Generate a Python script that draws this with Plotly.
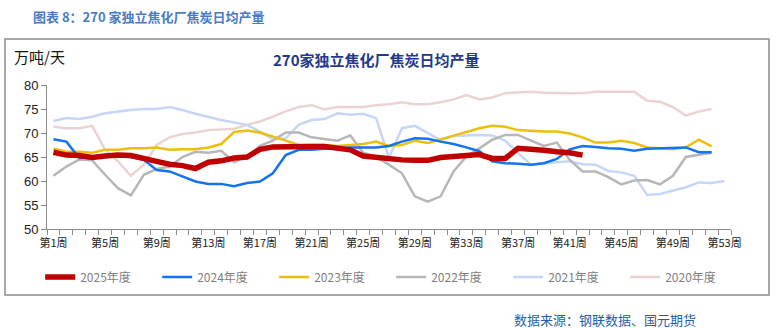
import plotly.graph_objects as go

weeks = [f"第{i}周" for i in range(1, 54)]

y2025 = [66.0, 65.4, 65.3, 64.9, 65.2, 65.4, 65.3, 64.6, 64.1, 63.5,
         63.2, 62.6, 63.9, 64.2, 64.8, 65.0, 66.6, 67.1, 67.2, 67.2,
         67.2, 67.2, 66.8, 66.5, 65.2, 64.9, 64.8, 64.4, 64.3, 64.3,
         64.9, 65.1, 65.3, 65.5, 64.7, 64.7, 66.8, 66.7, 66.4, 66.1,
         65.9, 65.4]
y2024 = [68.7, 68.2, 64.8, 65.0, 65.1, 65.1, 65.0, 64.4, 62.3, 62.0,
         61.0, 59.9, 59.4, 59.4, 58.9, 59.6, 59.9, 61.6, 65.4, 66.5,
         66.5, 66.7, 66.7, 67.0, 67.0, 67.0, 67.3, 68.2, 68.9, 68.8,
         68.2, 67.7, 67.0, 66.2, 64.1, 63.7, 63.6, 63.4, 63.7, 64.6,
         66.6, 67.3, 67.1, 66.8, 66.7, 66.3, 66.7, 66.8, 66.8, 67.0,
         66.0, 66.0]
y2023 = [66.7, 66.1, 66.1, 65.9, 66.5, 66.5, 66.8, 66.8, 67.0, 66.5,
         66.6, 66.6, 67.0, 67.7, 70.2, 70.5, 70.1, 69.3, 68.4, 67.5,
         67.5, 67.5, 67.3, 67.5, 67.7, 68.2, 67.3, 67.5, 68.4, 67.9,
         68.7, 69.4, 70.2, 71.0, 71.5, 71.3, 70.6, 70.4, 70.3, 70.3,
         69.9, 69.1, 68.0, 68.0, 68.4, 67.9, 67.0, 66.8, 66.6, 67.0,
         68.6, 67.2]
y2022 = [61.1, 63.0, 64.5, 64.3, 61.3, 58.5, 57.0, 61.3, 62.5, 63.0,
         65.0, 66.1, 65.9, 66.3, 63.9, 65.2, 67.3, 68.4, 70.1, 70.1,
         69.1, 68.7, 68.4, 69.5, 65.9, 65.0, 63.4, 61.6, 56.8, 55.7,
         56.8, 62.0, 65.1, 66.8, 68.6, 69.6, 69.6, 68.4, 67.3, 68.0,
         64.4, 62.0, 62.0, 60.8, 59.3, 60.1, 60.2, 59.3, 61.1, 65.0,
         65.4, 65.9]
y2021 = [72.5, 73.1, 72.9, 73.4, 74.1, 74.5, 74.8, 75.0, 75.0, 75.4,
         74.8, 74.0, 73.3, 72.7, 72.2, 71.7, 70.3, 68.7, 68.9, 71.7,
         72.7, 72.9, 74.1, 73.8, 74.0, 73.1, 64.8, 71.0, 71.5, 70.0,
         68.5, 69.4, 69.5, 69.6, 69.5, 68.4, 65.8, 63.4, 63.7, 63.9,
         64.1, 63.5, 63.4, 62.1, 61.8, 61.1, 57.1, 57.3, 58.0, 58.7,
         59.7, 59.6, 60.0]
y2020 = [71.3, 71.0, 71.0, 71.5, 66.5, 64.1, 61.1, 63.4, 67.5, 69.1,
         69.8, 70.1, 70.6, 70.8, 70.9, 71.7, 72.4, 73.4, 74.5, 75.4,
         75.8, 74.9, 75.4, 75.4, 75.4, 75.8, 76.0, 76.4, 76.0, 76.0,
         76.4, 77.0, 77.9, 77.0, 77.4, 78.3, 78.4, 78.6, 78.4, 78.3,
         78.3, 78.3, 78.6, 78.6, 78.6, 78.6, 76.7, 76.5, 75.4, 73.6,
         74.5, 75.0]

series = [
    ("2020年度", y2020, "#EBD3D3", 2.5),
    ("2021年度", y2021, "#C6D6F7", 2.5),
    ("2022年度", y2022, "#B7B7B7", 2.5),
    ("2023年度", y2023, "#EEBE0C", 2.5),
    ("2024年度", y2024, "#1473F0", 2.5),
    ("2025年度", y2025, "#C00000", 5.5),
]

fig = go.Figure()
for name, ys, color, w in series:
    fig.add_trace(go.Scatter(
        x=weeks[:len(ys)], y=ys, name=name, mode="lines",
        line=dict(color=color, width=w),
    ))

ticktext = [w if i % 4 == 0 else "" for i, w in enumerate(weeks)]

fig.update_layout(
    width=778, height=328,
    margin=dict(l=47, r=47, t=85, b=99),
    paper_bgcolor="white", plot_bgcolor="white",
    showlegend=True,
    legend=dict(
        orientation="h", traceorder="reversed",
        x=-0.01, xanchor="left", y=-0.333, yanchor="middle",
        entrywidth=72, entrywidthmode="pixels",
        font=dict(family="Noto Sans CJK SC", size=12, color="#7F7F7F"),
        itemwidth=30, bgcolor="rgba(0,0,0,0)",
    ),
    xaxis=dict(
        type="category", categoryorder="array", categoryarray=weeks,
        range=[-0.5, 52.5],
        tickvals=weeks, ticktext=ticktext, tickson="boundaries",
        ticks="outside", ticklen=5, tickcolor="#8C8C8C",
        ticklabelstandoff=4,
        showline=True, linecolor="#8C8C8C", linewidth=1,
        showgrid=False, zeroline=False, tickangle=0,
        tickfont=dict(family="Noto Sans CJK SC", size=11, color="#222222"),
    ),
    yaxis=dict(
        range=[50, 80], dtick=5, tick0=50,
        ticks="outside", ticklen=5, tickcolor="#8C8C8C",
        showline=True, linecolor="#8C8C8C", linewidth=1,
        showgrid=False, zeroline=False,
        tickfont=dict(family="Liberation Sans", size=13, color="#222222"),
    ),
    font=dict(family="Noto Sans CJK SC"),
)

# outer frame
fig.add_shape(type="rect", xref="paper", yref="paper",
              x0=(5 - 47) / 684, x1=(769 - 47) / 684,
              y0=(229 - 295) / 144, y1=(229 - 39) / 144,
              line=dict(color="#8C8C8C", width=1.5), layer="below")

fig.add_annotation(text="<b>图表 8：270 家独立焦化厂焦炭日均产量</b>",
                   xref="paper", yref="paper",
                   x=(31 - 47) / 684, y=(229 - 17) / 144,
                   xanchor="left", yanchor="middle", showarrow=False,
                   font=dict(family="Noto Sans CJK SC", size=13, color="#4A7CC4"))
fig.add_annotation(text="万吨/天", xref="paper", yref="paper",
                   x=(12 - 47) / 684, y=(229 - 56) / 144,
                   xanchor="left", yanchor="middle", showarrow=False,
                   font=dict(family="Noto Sans CJK SC", size=15, color="#111111"))
fig.add_annotation(text="<b>270家独立焦化厂焦炭日均产量</b>", xref="paper", yref="paper",
                   x=(376 - 47) / 684, y=(229 - 59) / 144,
                   xanchor="center", yanchor="middle", showarrow=False,
                   font=dict(family="Noto Sans CJK SC", size=15, color="#1F3A8A"))
fig.add_annotation(text="数据来源：钢联数据、国元期货", xref="paper", yref="paper",
                   x=(512 - 47) / 684, y=(229 - 319) / 144,
                   xanchor="left", yanchor="middle", showarrow=False,
                   font=dict(family="Noto Sans CJK SC", size=13, color="#1F5FAD"))

fig.write_html("out.html")
